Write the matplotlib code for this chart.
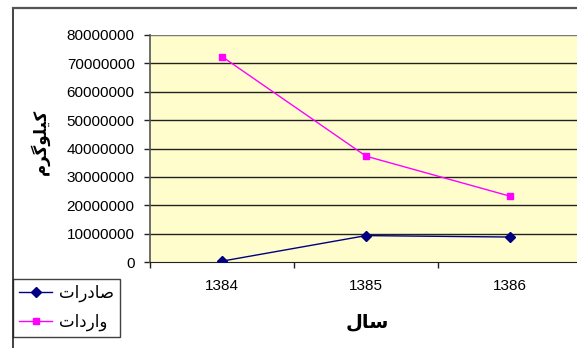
import numpy as np
import matplotlib
matplotlib.use("Agg")
import matplotlib.pyplot as plt
from matplotlib.lines import Line2D

plt.rcParams["font.family"] = ["Liberation Sans", "DejaVu Sans"]

years = ["1384", "1385", "1386"]
exports = [300000, 9300000, 8800000]      # صادرات
imports = [72400000, 37300000, 23200000]  # واردات
y_ticks = list(range(0, 80000001, 10000000))

# contextual forms (isolated, final, initial, medial); None = letter does not join forward
FORMS = {
    "ا": ("\uFE8D", "\uFE8E", None, None),
    "د": ("\uFEA9", "\uFEAA", None, None),
    "ر": ("\uFEAD", "\uFEAE", None, None),
    "و": ("\uFEED", "\uFEEE", None, None),
    "ت": ("\uFE95", "\uFE96", "\uFE97", "\uFE98"),
    "ص": ("\uFEB9", "\uFEBA", "\uFEBB", "\uFEBC"),
    "س": ("\uFEB1", "\uFEB2", "\uFEB3", "\uFEB4"),
    "ل": ("\uFEDD", "\uFEDE", "\uFEDF", "\uFEE0"),
    "م": ("\uFEE1", "\uFEE2", "\uFEE3", "\uFEE4"),
    "ک": ("\uFB8E", "\uFB8F", "\uFB90", "\uFB91"),
    "گ": ("\uFB92", "\uFB93", "\uFB94", "\uFB95"),
    "ی": ("\uFBFC", "\uFBFD", "\uFBFE", "\uFBFF"),
}


def shape(word):
    out = []
    for i, ch in enumerate(word):
        iso, fin, ini, med = FORMS[ch]
        prev_joins = i > 0 and FORMS[word[i - 1]][2] is not None
        next_joins = ini is not None and i < len(word) - 1
        if prev_joins and next_joins:
            out.append(med)
        elif prev_joins:
            out.append(fin)
        elif next_joins:
            out.append(ini)
        else:
            out.append(iso)
    return "".join(reversed(out))


W, H = 577, 348
fig = plt.figure(figsize=(W / 100, H / 100), dpi=100)

# outer chart border
fig.add_artist(Line2D([13 / W, 13 / W], [0, 1 - 8 / H], transform=fig.transFigure,
                      color="#222222", lw=1.2))
fig.add_artist(Line2D([13 / W, 1], [1 - 8 / H, 1 - 8 / H], transform=fig.transFigure,
                      color="#555555", lw=1.6))

ax = fig.add_axes([150 / W, 1 - 262 / H, 432 / W, 227 / H])
ax.set_facecolor("#FFFDCC")
ax.set_xlim(-0.5, 2.5)
ax.set_ylim(0, 80000000)

x = np.arange(len(years))
for v in y_ticks[1:]:
    ax.axhline(v, color="#222222" if v < 80000000 else "#777777", lw=1.0, zorder=1)

ax.plot(x, exports, color="#000080", lw=1.0, marker="D", ms=5,
        mfc="#000080", mec="#000080", zorder=3)
ax.plot(x, imports, color="#FF00FF", lw=1.0, marker="s", ms=5,
        mfc="#FF00FF", mec="#FF00FF", zorder=3)

for s in ["top", "right"]:
    ax.spines[s].set_visible(False)
ax.spines["left"].set_color("#555555")
ax.spines["left"].set_linewidth(1.2)
ax.spines["bottom"].set_color("#222222")

ax.set_yticks(y_ticks)
ax.set_yticklabels([str(v) for v in y_ticks])
ax.tick_params(axis="y", direction="out", length=4, width=1, color="#222222",
               pad=7, labelsize=11)
ax.set_xticks(x)
ax.set_xticklabels(years)
ax.set_xticks([-0.5, 0.5, 1.5, 2.5], minor=True)
ax.tick_params(axis="x", which="major", length=0, pad=12, labelsize=11)
ax.tick_params(axis="x", which="minor", direction="out", length=4, width=1, color="#222222")

fig.text(367 / W, 1 - 322 / H, shape("سال"), ha="center", va="center",
         fontsize=14, fontweight="bold")
fig.text(40 / W, 1 - 142 / H, shape("کیلوگرم"), ha="center", va="center",
         rotation=90, fontsize=12, fontweight="bold")

handles = [
    Line2D([], [], color="#000080", lw=1.0, marker="D", ms=5, mfc="#000080", mec="#000080"),
    Line2D([], [], color="#FF00FF", lw=1.0, marker="s", ms=5, mfc="#FF00FF", mec="#FF00FF"),
]
leg = fig.legend(handles, [shape("صادرات"), shape("واردات")],
                 loc="lower left", bbox_to_anchor=(13 / W, 1 - 337 / H),
                 frameon=True, fancybox=False, edgecolor="#111111",
                 fontsize=12, handlelength=2.0, handletextpad=0.4,
                 labelspacing=0.7, borderpad=0.35, borderaxespad=0)
leg.get_frame().set_linewidth(1.0)

fig.savefig("out.png", dpi=100)
